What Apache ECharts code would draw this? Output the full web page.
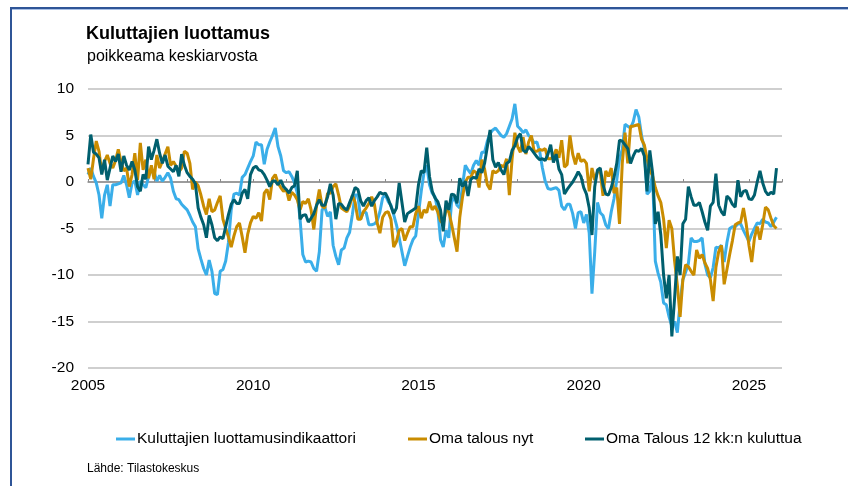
<!DOCTYPE html>
<html>
<head>
<meta charset="utf-8">
<script src="https://cdn.jsdelivr.net/npm/echarts@6/dist/echarts.min.js"></script>
<style>
  html, body { margin: 0; padding: 0; background: #fff; }
  #chart { width: 848px; height: 486px; }
</style>
</head>
<body>
<div id="chart"></div>
<script>
// monthly, Jan 2005 -> Nov 2025
const startYear = 2005

const seriesNames = ['Kuluttajien luottamusindikaattori', 'Oma talous nyt', 'Oma Talous 12 kk:n kuluttua']

const luottamus = [
  0.8, 1.5, 0.6, -0.1, -1.4, -3.9, -1.4, -0.3, -2.6, -0.3,
  -0.3, -0.2, -0.1, 0.7, -0.3, -1.7, -0.1, 0.1, -1.4, 0.1,
  -0.3, -0.6, 0.6, 1.3, 1.1, 0.1, 0.7, 0.1, 0.5, 1.0,
  0.4, -1.0, -1.8, -1.9, -2.4, -2.7, -3.0, -3.6, -4.3, -4.8,
  -7.2, -8.3, -9.3, -10.0, -8.4, -9.6, -12.0, -12.1, -9.6, -9.4,
  -8.5, -6.5, -3.0, -1.3, -1.2, -1.4, 0.5, 0.8, 1.5, 2.2,
  2.8, 4.3, 4.0, 4.0, 1.9, 3.5, 4.3, 5.0, 5.8, 3.8,
  2.8, 1.2, 1.0, 1.1, 0.6, -0.1, -1.2, -4.0, -7.8, -8.6,
  -8.5, -8.6, -9.3, -9.6, -7.5, -3.0, -2.7, -3.7, -3.2, -6.8,
  -8.0, -8.9, -7.3, -7.1, -6.0, -5.4, -3.5, -1.4, -1.4, -4.0,
  -3.2, -3.3, -4.6, -4.6, -4.5, -4.2, -3.2, -1.7, -1.4, -2.1,
  -2.5, -3.5, -4.6, -6.0, -7.5, -9.0, -8.0, -7.0, -6.2, -5.8,
  -3.4, -1.0, 1.0, 1.8, -0.3, -1.2, -1.6, -3.0, -6.2, -7.0,
  -5.2, -6.0, -2.2, -1.6, -2.5, -2.8, -0.4, 1.8, 1.3, 0.9,
  1.8, 2.3, 1.8, 3.2, 3.2, 4.4, 5.2, 5.6, 5.8, 5.4,
  5.0, 4.8, 5.2, 6.0, 6.8, 8.4, 6.0, 5.7, 5.3, 5.6,
  5.0, 4.7, 4.2, 4.3, 3.3, 1.5, 0.1, -0.7, -0.8, -0.7,
  -0.6, -0.9, -2.6, -3.0, -2.4, -2.4, -3.4, -5.0, -3.3, -3.2,
  -4.4, -3.5, -5.5, -12.0, -7.5, -2.2, -3.3, -3.6, -4.6, -5.0,
  -3.2, -1.8, 0.2, 2.5, 3.5, 6.2, 6.0, 5.8, 6.5, 7.8,
  7.0, 5.0, 3.6, -1.3, -1.0, 1.0, -8.5, -9.8, -10.8, -13.0,
  -13.2, -14.5, -15.5, -15.0, -16.2, -13.0, -10.5, -9.7, -8.8, -6.0,
  -6.4, -6.4, -6.3, -6.0, -8.8, -10.0, -10.3, -9.2, -7.0, -7.1,
  -6.8, -8.6, -6.5, -5.0, -4.8, -4.8, -4.5, -4.5, -5.2, -5.8,
  -6.4, -5.6, -5.0, -4.4, -4.5, -4.0, -4.3, -4.4, -4.8, -4.3, -3.8
]

const omaNyt = [
  1.5, 0.3, 2.5, 4.4, 3.3, 1.0, 2.2, 2.9, 2.0, 1.5,
  2.3, 3.5, 2.2, 1.2, 1.5, -0.5, 0.8, 3.1, 0.2, 4.2,
  1.3, 2.4, 0.4, 1.8, 0.3, 2.9, 1.5, 2.2, 3.0, 3.8,
  1.8, 2.2, 1.7, 1.1, 1.5, 3.3, 3.1, 2.0, -0.8, 0.0,
  -0.4, -1.4, -2.6, -3.5, -1.8, -3.2, -3.0, -2.2, -1.5, -4.0,
  -5.0, -5.9, -7.0, -5.8, -4.8, -4.4, -5.9, -7.6, -5.6, -4.4,
  -3.7, -3.9, -3.3, -4.2, -1.2, -0.8, -1.9, 0.4, 0.8, -0.1,
  -0.6, -1.0, -0.8, -2.0, -1.1, -1.4, -1.9, -3.0, -2.1, -2.3,
  -1.8, -3.0, -5.1, -2.5, -0.8, -2.6, -2.8, -1.2, -1.2, -0.5,
  -0.2, -1.4, -2.8, -3.0, -3.2, -2.6, -1.4, -2.2, -4.0, -4.0,
  -3.2, -2.8, -2.3, -1.6, -2.4, -4.4, -5.5, -3.8, -3.3, -3.2,
  -4.0, -7.0, -6.4, -5.2, -5.0, -6.3, -5.5, -4.8, -4.8, -3.4,
  -2.6, -3.9, -3.0, -3.3, -2.1, -3.0, -2.6, -3.2, -4.2, -4.5,
  -3.0, -3.2, -4.5, -6.0, -7.5, -3.8, -1.6, 0.0, 0.5, 0.5,
  1.2, 1.0, -0.6, 2.4, 1.4, -0.3, -0.8, 1.2, 1.0, 1.2,
  1.8, 1.6, 2.5, -1.4, 2.5, 5.3, 3.8, 3.2, 4.8, 3.0,
  4.3, 5.0, 3.3, 3.3, 3.5, 3.4, 3.6, 2.5, 2.5, 2.8,
  3.5, 2.6, 4.5, 1.6, 1.9, 5.0, 3.0, 1.9, 3.1, 2.2,
  2.4, 2.0, -1.0, 1.5, 0.2, 1.1, 1.2, -1.5, 1.2, 0.6,
  1.5, -1.2, -0.6, -4.5, 2.0, 5.3, 2.0, 6.0, 6.0, 6.1,
  6.2, 4.6, 4.0, 2.5, 1.2, 0.7, -0.6, -1.5, -2.2, -4.0,
  -7.1, -4.1, -5.0, -8.5, -11.1, -14.5, -10.5, -8.9, -9.1, -9.6,
  -10.0, -7.3, -8.2, -7.8, -8.7, -9.3, -10.5, -12.8, -9.2, -7.5,
  -6.8, -11.0, -9.4, -7.8, -6.3, -4.6, -4.4, -4.3, -2.8, -4.5,
  -6.8, -8.6, -6.0, -4.8, -6.2, -4.6, -2.7, -3.0, -3.9, -4.7, -5.0
]

const oma12kk = [
  1.9, 5.1, 3.2, 3.0, 2.6, 0.8, 2.4, 0.2, 1.5, 2.8,
  2.2, 3.0, 1.1, 2.8, 1.8, 1.3, 2.2, 1.3, -0.5, -1.0,
  0.8, 0.3, 3.8, 2.4, 3.4, 4.6, 3.1, 2.0, 2.9, 1.7,
  1.4, 1.1, 1.8, 0.6, 3.0, 1.8, 1.0, 0.6, 0.3, -0.2,
  -2.8, -3.8, -4.6, -6.0, -3.6, -4.6, -6.0, -6.3, -5.9, -6.1,
  -4.8, -3.5, -2.4, -1.9, -2.3, -2.3, -1.2, -0.8, -1.8, 0.8,
  1.5, 1.7, 1.3, 1.2, 0.8, 0.2, -0.5, 0.1, 0.1, -0.3,
  0.2, -0.5, -0.8, -1.2, -0.6, -0.4, 1.2, -4.0, -3.6, -3.5,
  -4.3, -3.9, -3.4, -2.5, -1.9, -2.5, -2.5, -1.6, -0.2, -1.4,
  -4.0, -2.3, -2.4, -2.8, -3.0, -2.2, -1.5, -0.6, -0.8, -2.0,
  -2.6, -2.0, -1.7, -2.6, -2.0, -1.6, -1.1, -1.3, -1.2, -1.8,
  -2.6, -3.4, -2.8, -0.1, -2.2, -4.3, -3.4, -3.2, -3.0, -2.8,
  -0.3, 1.2, 1.0, 3.7, 0.6, -1.0, -1.7, -2.1, -3.0, -5.3,
  -2.0, -3.0, -1.3, -1.4, -2.3, 0.4, -0.5, 0.1, -1.5, 0.3,
  0.5, 0.4, 1.4, 1.0, 2.0, 3.8, 5.6, 2.4, 1.6, 2.1,
  1.3, 0.8, 2.0, 2.2, 3.4, 3.9, 4.8, 5.2, 3.4, 3.2,
  3.8, 3.5, 3.1, 2.7, 2.4, 2.5, 2.3, 3.0, 4.0, 2.1,
  3.0, 1.4, 0.8, -1.3, -0.8, -0.4, 0.0, 0.5, 1.1, 0.6,
  -0.6, -1.3, -2.8, -5.7, -0.5, 1.3, 1.5, -0.3, -1.3, -1.4,
  -0.6, 0.5, 2.0, 4.5, 4.4, 4.0, 3.6, 2.0, 2.8, 3.4,
  3.3, 3.6, 2.8, -1.0, 3.4, 1.0, -4.5, -3.2, -5.7, -10.0,
  -12.5, -10.0, -16.6, -12.5, -8.0, -10.0, -4.5, -4.0, -0.5, -1.6,
  -2.5, -2.5, -2.2, -3.2, -4.3, -5.2, -2.6, -2.2, 0.9, -2.5,
  -3.2, -3.6, -1.5, -1.8, -2.4, -2.7, 0.2, -1.6, -1.0, -0.9,
  -1.8, -1.9, -1.4, 0.0, 1.2, -0.1, -1.0, -1.4, -1.1, -1.3, 1.5
]

const yearTicks = [2005, 2010, 2015, 2020, 2025]
const colors = ['#3aaee9', '#c98c00', '#005f6e']
const font = 'Liberation Sans, Arial, sans-serif'

const toPairs = (arr) => arr.map((v, i) => [startYear + i / 12, v])

const chart = echarts.init(document.getElementById('chart'))

chart.setOption({
  animation: false,
  textStyle: { fontFamily: font, color: '#000' },
  title: [
    {
      text: 'Kuluttajien luottamus',
      left: 81, top: 20,
      textStyle: { fontFamily: font, fontSize: 18, fontWeight: 'bold', color: '#000' }
    },
    {
      text: 'poikkeama keskiarvosta',
      left: 82, top: 44,
      textStyle: { fontFamily: font, fontSize: 16, fontWeight: 'normal', color: '#000' }
    },
    {
      text: 'Lähde: Tilastokeskus',
      left: 82, top: 458,
      textStyle: { fontFamily: font, fontSize: 12, fontWeight: 'normal', color: '#000' }
    }
  ],
  graphic: [
    { type: 'rect', shape: { x: 10, y: 7, width: 838, height: 2 }, style: { fill: '#2f5597' } },
    { type: 'rect', shape: { x: 10, y: 9, width: 838, height: 1 }, style: { fill: '#a9c0e6' } },
    { type: 'rect', shape: { x: 10, y: 7, width: 2, height: 479 }, style: { fill: '#2f5597' } }
  ],
  legend: [0, 1, 2].map((i) => ({
    data: [seriesNames[i]],
    left: [111, 403, 580][i],
    top: 426,
    icon: 'rect',
    itemWidth: 19,
    itemHeight: 3,
    itemGap: 0,
    textStyle: { fontFamily: font, fontSize: 15.5, color: '#000', padding: [0, 0, 0, -3] }
  })),
  grid: { left: 88, right: 66, top: 89, bottom: 118 },
  xAxis: [
    {
      type: 'value', min: 2005, max: 2026, interval: 1,
      axisLine: { show: true, onZero: true, lineStyle: { color: '#8c8c8c', width: 1.5 } },
      axisTick: { show: true, inside: true, length: 3, lineStyle: { color: '#8c8c8c' } },
      axisLabel: { show: false },
      splitLine: { show: false }
    },
    {
      type: 'value', min: 2005, max: 2026, interval: 5, position: 'bottom',
      axisLine: { show: false, onZero: false },
      axisTick: { show: false },
      axisLabel: {
        margin: 10, fontSize: 15.5, color: '#000', fontFamily: font,
        formatter: (v) => yearTicks.includes(v) ? String(v) : ''
      },
      splitLine: { show: false }
    }
  ],
  yAxis: {
    type: 'value', min: -20, max: 10, interval: 5,
    axisLine: { show: false },
    axisTick: { show: false },
    axisLabel: { margin: 14, fontSize: 15.5, color: '#000', fontFamily: font },
    splitLine: { lineStyle: { color: '#bfbfbf', width: 1.5 } }
  },
  series: [luottamus, omaNyt, oma12kk].map((arr, i) => ({
    name: seriesNames[i],
    type: 'line',
    xAxisIndex: 0,
    data: toPairs(arr),
    showSymbol: false,
    symbol: 'none',
    color: colors[i],
    lineStyle: { color: colors[i], width: 3 },
    z: 2 + i
  }))
})
</script>
</body>
</html>
